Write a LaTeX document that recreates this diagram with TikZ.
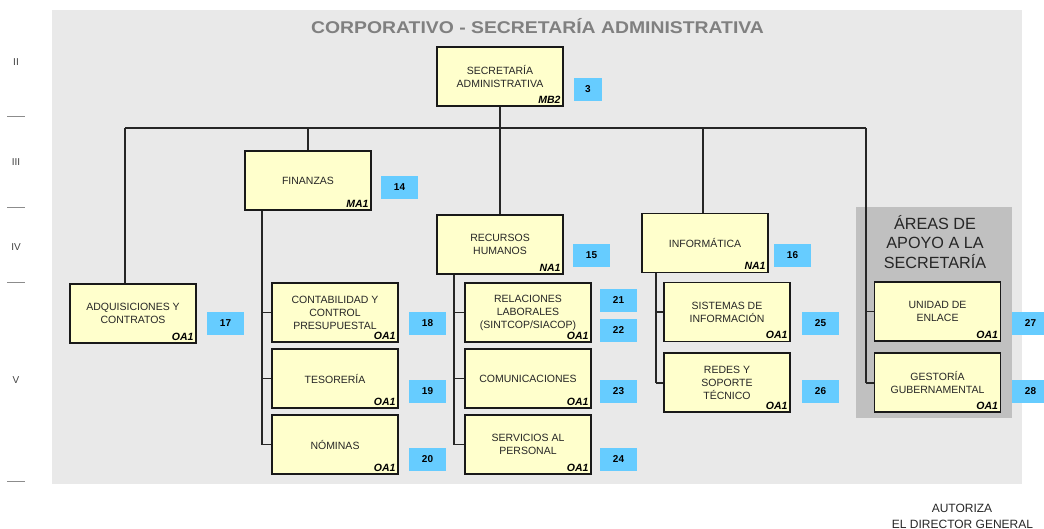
\documentclass[tikz,border=0pt]{standalone}
\usepackage{fontspec}
\setmainfont{Liberation Sans}
\usepackage{graphicx}
\definecolor{boxyellow}{HTML}{FFFFCC}
\definecolor{badgeblue}{HTML}{66CCFF}
\definecolor{bggray}{HTML}{E9E9E9}
\definecolor{areagray}{HTML}{C0C0C0}
\definecolor{titlegray}{HTML}{808080}
\newcommand\orgbox[4]{%
  \node[ubox] (#1) at (#2) {#3};
  \node[code] (#1c) at ([xshift=-3pt,yshift=3.5pt]#1.south east) {#4};}
\begin{document}
\begin{tikzpicture}[x=1pt,y=-1pt,
  ubox/.style={draw=black!90, line width=1.4pt, fill=boxyellow, minimum width=126pt,
    minimum height=59pt, inner sep=1pt, align=center,
    font=\fontsize{10.5}{13}\selectfont, text=black!85},
  code/.style={anchor=base east, inner sep=0pt,
    font=\fontsize{10.5}{12}\selectfont\bfseries\itshape},
  badge/.style={fill=badgeblue, minimum width=37pt, minimum height=23pt, inner sep=0pt,
    font=\fontsize{10}{12}\selectfont\bfseries},
  conn/.style={line width=1.2pt, draw=black!85},
  lvl/.style={font=\fontsize{10}{12}\selectfont, text=black!75},
  lvlrule/.style={draw=black!45, line width=1pt}]
\useasboundingbox (0,0) rectangle (1044,529);
\fill[bggray] (52,10) rectangle (1022,484);
\node (title) at (537.5,26) {\scalebox{1.14}[1]{\fontsize{17}{17}\selectfont\bfseries\color{titlegray}CORPORATIVO - SECRETARÍA ADMINISTRATIVA}};

% level labels
\node[lvl] (l2) at (16,62) {II};
\node[lvl] (l3) at (16,162) {III};
\node[lvl] (l4) at (16,247) {IV};
\node[lvl] (l5) at (16,380) {V};
\draw[lvlrule] (7,117) -- (25,117);
\draw[lvlrule] (7,208) -- (25,208);
\draw[lvlrule] (7,283) -- (25,283);
\draw[lvlrule] (7,481) -- (25,481);

% support area
\fill[areagray] (856,207) rectangle (1012,418);
\node[align=center, inner sep=0pt, text=black!85, font=\fontsize{16.2}{19.4}\selectfont] (areas) at (935,242) {ÁREAS DE\\APOYO A LA\\SECRETARÍA};

% coordinates of bus
\coordinate (busL) at (125,128);
\coordinate (busR) at (866,128);
\coordinate (busF) at (308,128);
\coordinate (busC) at (500,128);
\coordinate (busI) at (703,128);
\coordinate (av) at (866,383);

% boxes
\orgbox{sec}{500,76.5}{SECRETARÍA\\ADMINISTRATIVA}{MB2}
\orgbox{fin}{308,180.5}{FINANZAS}{MA1}
\orgbox{adq}{133,313.5}{ADQUISICIONES Y\\CONTRATOS}{OA1}
\orgbox{cont}{335,312.5}{CONTABILIDAD Y\\CONTROL\\PRESUPUESTAL}{OA1}
\orgbox{teso}{335,378.5}{TESORERÍA}{OA1}
\orgbox{nom}{335,444.5}{NÓMINAS}{OA1}
\orgbox{rh}{500,244.5}{RECURSOS\\HUMANOS}{NA1}
\orgbox{rel}{528,312.5}{RELACIONES\\LABORALES\\(SINTCOP/SIACOP)}{OA1}
\orgbox{com}{528,378.5}{COMUNICACIONES}{OA1}
\orgbox{serv}{528,444.5}{SERVICIOS AL\\PERSONAL}{OA1}
\orgbox{inf}{705,243}{INFORMÁTICA}{NA1}
\orgbox{sis}{727,312}{SISTEMAS DE\\INFORMACIÓN}{OA1}
\orgbox{red}{727,382.5}{REDES Y\\SOPORTE\\TÉCNICO}{OA1}
\orgbox{uni}{937.5,311.5}{UNIDAD DE\\ENLACE}{OA1}
\orgbox{ges}{937.5,382.5}{GESTORÍA\\GUBERNAMENTAL}{OA1}

% connectors
\draw[conn] (sec.south) -- (busC);
\draw[conn] (busL) -- (busR);
\draw[conn] (busL) -- (busL |- adq.north);
\draw[conn] (busF) -- (fin.north);
\draw[conn] (busC) -- (rh.north);
\draw[conn] (busI) -- (busI |- inf.north);
\draw[conn] (busR) -- (av);
\draw[conn] (av |- uni.west) -- (uni.west);
\draw[conn] (av) -- (ges.west |- av);

\coordinate (fv) at (262,445);
\draw[conn] (fv |- fin.south) -- (fv);
\draw[conn] (fv |- cont.west) -- (cont.west);
\draw[conn] (fv |- teso.west) -- (teso.west);
\draw[conn] (fv |- nom.west) -- (nom.west);

\coordinate (rv) at (454,445);
\draw[conn] (rv |- rh.south) -- (rv);
\draw[conn] (rv |- rel.west) -- (rel.west);
\draw[conn] (rv |- com.west) -- (com.west);
\draw[conn] (rv |- serv.west) -- (serv.west);

\coordinate (iv) at (656,383);
\draw[conn] (iv |- inf.south) -- (iv);
\draw[conn] (iv |- sis.west) -- (sis.west);
\draw[conn] (iv) -- (red.west |- iv);

% badges
\node[badge, minimum width=28pt] (b3) at (588,89.5) {3};
\node[badge] (b14) at (399.5,187.5) {14};
\node[badge] (b15) at (591.5,255.5) {15};
\node[badge] (b16) at (792.5,255.5) {16};
\node[badge] (b17) at (225.5,323.5) {17};
\node[badge] (b18) at (427.5,323.5) {18};
\node[badge] (b19) at (427.5,391) {19};
\node[badge] (b20) at (427.5,459.5) {20};
\node[badge] (b21) at (618.5,300.5) {21};
\node[badge] (b22) at (618.5,330.5) {22};
\node[badge] (b23) at (618.5,391.5) {23};
\node[badge] (b24) at (618.5,459.5) {24};
\node[badge] (b25) at (820.5,323.5) {25};
\node[badge] (b26) at (820.5,391.5) {26};
\node[badge] (b27) at (1030.5,323.5) {27};
\node[badge] (b28) at (1030.5,391) {28};

% footer
\node[font=\fontsize{12}{14}\selectfont, text=black!85, inner sep=0pt] (aut) at (962,508) {AUTORIZA};
\node[font=\fontsize{12}{14}\selectfont, text=black!85, inner sep=0pt] (dir) at (962.5,524) {EL DIRECTOR GENERAL};
\end{tikzpicture}
\end{document}
